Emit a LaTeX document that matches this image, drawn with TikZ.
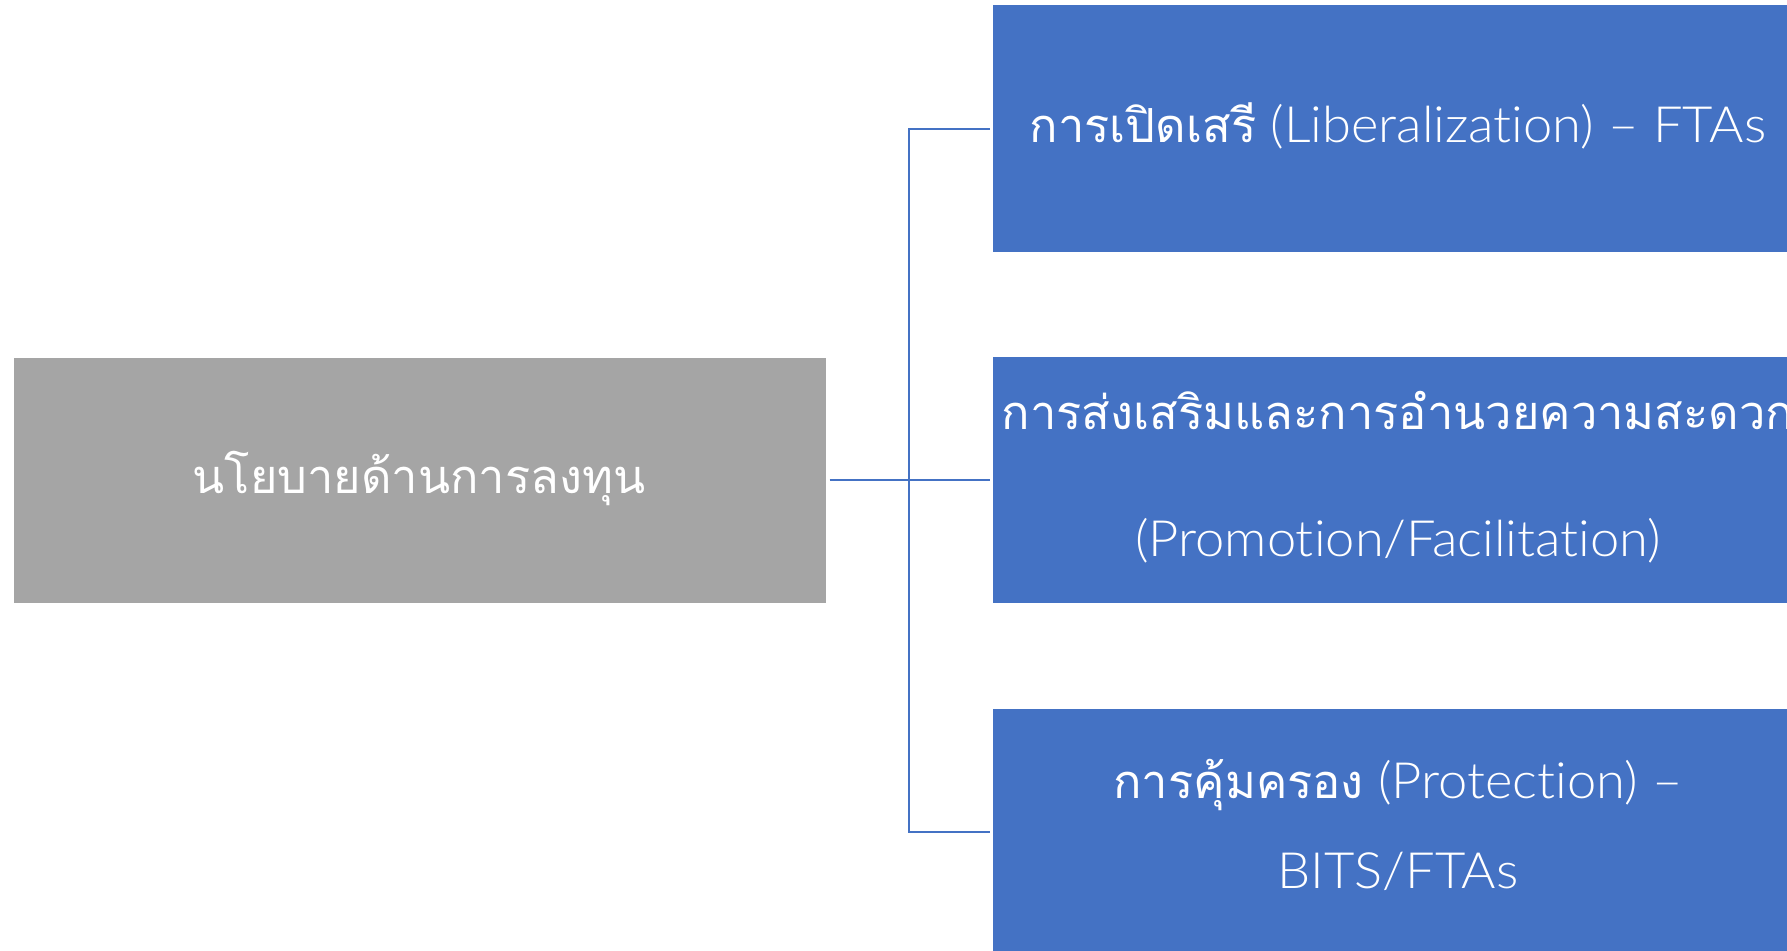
\documentclass[tikz,border=0pt]{standalone}
\usepackage{fontspec}
\IfFontExistsTF{Lato Light}{\setmainfont{Lato Light}[Ligatures={NoCommon,NoRare,NoContextual},FakeStretch=1.05]}{\setmainfont{Open Sans}}
\newfontfamily\thaifont[Script=Thai]{Loma}
\definecolor{boxblue}{HTML}{4472C4}
\definecolor{boxgray}{HTML}{A5A5A5}
\definecolor{linkblue}{HTML}{4472C4}
\tikzset{
  blockbox/.style={rectangle, draw=white, line width=1pt, minimum width=812pt, minimum height=247pt, inner sep=0pt, fill=boxblue},
  rootbox/.style={blockbox, fill=boxgray, minimum width=813pt, minimum height=246pt},
  boxtext/.style={anchor=base, text=white, inner sep=0pt, font=\fontsize{50}{60}\selectfont},
  thaitext/.style={boxtext, font=\fontsize{47}{56}\selectfont\thaifont},
  link/.style={draw=linkblue, line width=2pt}
}
\begin{document}
\begin{tikzpicture}[x=1pt,y=-1pt]
\useasboundingbox (0,0) rectangle (1787,950);
\clip (0,0) rectangle (1787,950);
\fill[white] (0,0) rectangle (1787,950);
\node[rootbox] (g) at (419.5,480) {};
\node[blockbox] (b1) at (1398,128.5) {};
\node[blockbox] (b2) at (1398,480) {};
\node[blockbox] (b3) at (1398,831.5) {};
\node[thaitext] (tg) at (419,493) {นโยบายด้านการลงทุน};
\node[boxtext] (t1) at (1398,142) {{\fontsize{47}{56}\selectfont\thaifont การเปิดเสรี} (Liberalization) – FTAs};
\node[thaitext] (t2a) at (1398,429) {การส่งเสริมและการอำนวยความสะดวก};
\node[boxtext] (t2b) at (1398,556) {(Promotion/Facilitation)};
\node[boxtext] (t3a) at (1398,798) {{\fontsize{47}{56}\selectfont\thaifont การคุ้มครอง} (Protection) –};
\node[boxtext] (t3b) at (1398,888) {BITS/FTAs};
\coordinate (j) at (909,480);
\draw[link] ([xshift=3pt]g.east) -- ([xshift=-2pt]b2.west);
\draw[link] ([xshift=-2pt]b1.west) -| (j) |- ([xshift=-2pt]b3.west);
\end{tikzpicture}
\end{document}
